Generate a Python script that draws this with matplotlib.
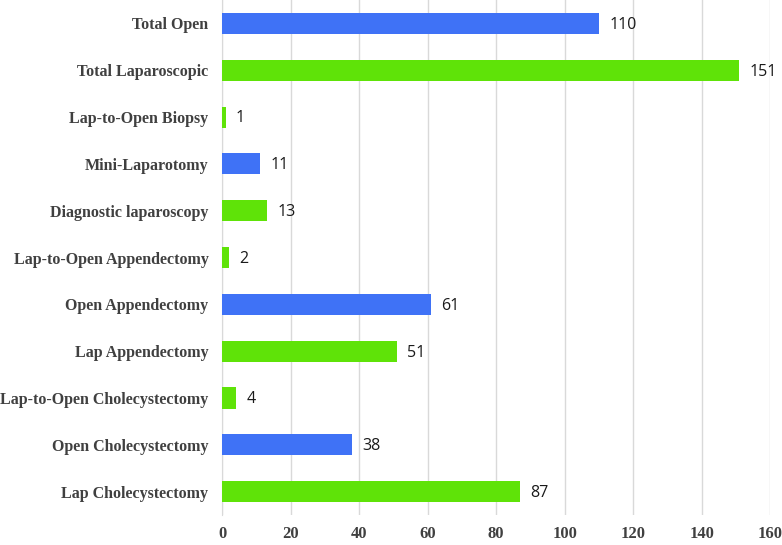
import matplotlib
matplotlib.use("Agg")
import matplotlib.pyplot as plt

categories = ["Lap Cholecystectomy", "Open Cholecystectomy", "Lap-to-Open Cholecystectomy",
              "Lap Appendectomy", "Open Appendectomy", "Lap-to-Open Appendectomy",
              "Diagnostic laparoscopy", "Mini-Laparotomy", "Lap-to-Open Biopsy",
              "Total Laparoscopic", "Total Open"]
values = [87, 38, 4, 51, 61, 2, 13, 11, 1, 151, 110]
groups = ["lap", "open", "lap", "lap", "open", "lap", "lap", "open", "lap", "lap", "open"]
x_ticks = [0, 20, 40, 60, 80, 100, 120, 140, 160]

color_map = {"lap": "#5FE308", "open": "#3F72F6"}

fig = plt.figure(figsize=(7.82, 5.45), dpi=100)
ax = fig.add_axes([0.2843, 0.055, 0.7004, 0.945])

ypos = list(range(len(categories)))
ax.barh(ypos, values, height=0.45, color=[color_map[g] for g in groups], zorder=3)

for y, v in zip(ypos, values):
    ax.text(v + 3, y - 0.03, str(v), va="center", ha="left", fontsize=11.5,
            family=["Open Sans", "DejaVu Sans"], color="#1a1a1a")

ax.set_xlim(0, 160)
ax.set_ylim(-0.5, 10.5)
ax.set_xticks(x_ticks)
ax.set_xticklabels([str(t) for t in x_ticks], family="Liberation Serif",
                   fontweight="bold", fontsize=12, color="#404040")
ax.set_yticks(ypos)
ax.set_yticklabels(categories, family="Liberation Serif", fontweight="bold",
                   fontsize=11.5, color="#404040")
ax.tick_params(axis="both", length=0)
ax.tick_params(axis="y", pad=10)
ax.tick_params(axis="x", pad=8)
ax.grid(axis="x", color="#d9d9d9", linewidth=1, zorder=0)
for s in ["top", "right", "bottom"]:
    ax.spines[s].set_visible(False)
ax.spines["left"].set_color("#d9d9d9")
ax.spines["left"].set_zorder(0)

fig.savefig("out.png", dpi=100)
